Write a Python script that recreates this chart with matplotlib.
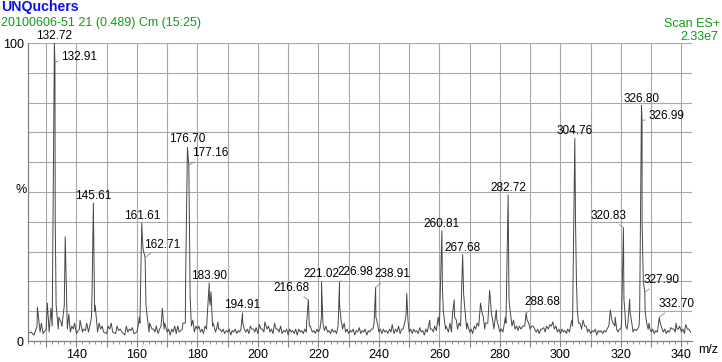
import matplotlib
matplotlib.use("Agg")
import matplotlib.pyplot as plt
from matplotlib.ticker import MultipleLocator, FuncFormatter
import numpy as np

plt.rcParams['font.family'] = ['Liberation Sans', 'DejaVu Sans']

# noise floor, one reading per m/z unit starting at 124 (% of base peak)
noise_start = 124
noise_pct = [
    2.5, 3, 2, 5, 3, 2.5, 4, 3, 5, 40, 4, 6, 12, 4, 3, 4, 2.5, 4, 3, 3.5,      # 124-143
    3, 8, 10, 3, 4, 3, 2.5, 4, 3, 2.5, 3.5, 3, 2, 3, 3.5, 2.5, 3, 6, 31, 12,   # 144-163
    3, 4, 3, 2.5, 5, 4, 3, 2, 3, 2.5, 3, 4, 6, 61, 5, 3, 4, 3, 2.5, 4,         # 164-183
    14, 5, 3, 4, 3, 2.5, 3, 2, 3, 2.5, 3, 6, 3, 2.5, 4, 3, 2.5, 4, 3, 4,       # 184-203
    3, 2.5, 4, 3, 2.5, 3, 2, 3, 2.5, 2, 3, 2.5, 3, 5, 3, 2.5, 3, 8, 3.5, 3,    # 204-223
    2.5, 3, 2.5, 12, 4, 3, 2.5, 3, 2, 3, 2.5, 3, 2, 3, 4, 8, 3, 2.5, 3, 2.5,   # 224-243
    3, 2.5, 3, 2.5, 4, 9, 3, 2.5, 3, 2.5, 3, 2, 3, 4, 3, 3.5, 5, 18, 4, 3,     # 244-263
    3, 8, 4, 5, 16, 4, 3, 2.5, 4, 5, 10, 4, 6, 12, 4, 7, 3, 3, 6, 14,          # 264-283
    5, 4, 3.5, 4, 5, 7, 4, 5, 3, 2.5, 4, 3, 4, 5, 4, 3, 2.5, 3, 2.5, 3,        # 284-303
    5, 40, 6, 4, 5, 3, 2.5, 3, 2, 3, 2.5, 3, 5, 7, 5, 3, 4, 14, 4, 10,         # 304-323
    3, 3.5, 5, 40, 10, 4, 3, 2.5, 3, 6, 3, 2.5, 3, 4, 3, 4, 3, 2.5, 4, 3,      # 324-343
]

# peaks and bumps
peak_mz = [
    127.1, 128.4, 130.4, 131.6, 132.72, 132.91, 133.3, 134.2, 135.2, 136.3, 137.5, 138.5, 139.4,
    141.2, 142.3, 143.4, 144.4, 145.2, 145.61, 146.2, 147.5, 148.5, 150.5, 151.5, 153.4, 154.5,
    156.5, 157.5, 158.5, 160.4, 160.8, 161.61, 162.71, 164.2, 165.5, 166.4, 167.5, 168.4, 169.2,
    170.5, 171.5, 172.5, 173.5, 175.2, 176.1, 176.70, 177.16, 177.6, 178.5, 179.5, 180.5, 181.5,
    182.5, 183.3, 183.90, 184.2, 184.5, 185.2, 186.3, 186.8, 187.5, 188.5, 189.5, 190.5, 191.5,
    192.5, 193.5, 194.4, 194.91, 195.5, 196.5, 197.5, 198.5, 199.4, 200.5, 201.5, 202.3, 203.5,
    204.5, 205.5, 206.5, 207.5, 208.5, 209.5, 210.5, 211.5, 212.5, 213.5, 214.5, 215.5, 216.1,
    216.68, 217.3, 218.5, 219.5, 220.5, 221.02, 221.5, 222.5, 223.5, 224.5, 225.5, 226.5, 226.98,
    227.5, 228.5, 229.5, 230.5, 231.5, 232.5, 233.5, 234.5, 235.4, 236.5, 237.5, 238.4, 238.91,
    239.5, 240.5, 241.5, 242.5, 243.5, 244.4, 245.5, 246.5, 247.5, 248.5, 249.2, 249.6, 250.5,
    251.5, 252.5, 253.5, 254.5, 255.5, 256.8, 257.5, 258.4, 259.6, 260.81, 261.3, 262.2, 263.5,
    264.3, 264.9, 265.6, 266.5, 267.68, 268.3, 269.2, 270.5, 271.5, 272.5, 273.6, 274.5, 275.2,
    276.6, 277.2, 277.6, 278.8, 279.5, 280.5, 281.8, 282.72, 283.4, 284.5, 285.5, 286.4, 287.5,
    288.2, 288.68, 289.5, 290.5, 291.5, 292.5, 293.5, 294.5, 295.4, 296.5, 297.5, 298.5, 299.5,
    300.5, 301.5, 302.4, 303.3, 303.8, 304.76, 305.3, 305.6, 306.5, 307.5, 308.5, 309.4, 310.5,
    311.5, 312.5, 313.5, 314.5, 315.4, 316.5, 317.4, 318.1, 318.6, 319.5, 320.2, 320.83, 321.3,
    321.6, 322.3, 322.9, 323.6, 324.5, 325.5, 326.2, 326.80, 326.99, 327.4, 327.90, 328.5, 329.3,
    329.6, 330.5, 331.5, 332.2, 332.70, 333.3, 334.5, 335.5, 336.5, 337.5, 338.2, 338.6, 339.4,
    340.5, 341.4, 342.5,
]
peak_pct = [
    11.4, 6, 12.7, 11, 100, 93.6, 12, 8, 5, 35, 9, 5, 6,
    7, 4, 6, 5, 18, 46.3, 12, 6, 5, 5, 6, 5, 4,
    5, 4, 4.5, 5, 8, 39.6, 28, 6, 4, 5, 4, 11, 6,
    4, 4, 5, 5, 6, 20, 65, 59, 15, 7, 5, 5, 4,
    5, 9, 19.5, 12, 16.5, 6, 4, 6.4, 4, 4, 3.5, 4, 3.5,
    4, 3.5, 4, 9.4, 4, 4, 5, 4, 4.5, 5.5, 4, 6.4, 5,
    4, 6, 4, 5, 3.5, 4, 4, 3.5, 4, 4, 3.5, 4, 6,
    13.8, 5, 3.5, 4, 4, 19.8, 6, 5, 3.5, 4, 3.5, 5, 19.8,
    7, 6, 4, 3.5, 4, 3.5, 4.5, 3.5, 4, 3.5, 4, 6, 18,
    6, 4, 4, 3.5, 4, 5.5, 4, 5, 4, 6, 16, 7, 4,
    4, 3.5, 4.5, 3.5, 4, 7, 4, 5, 8, 37, 10, 5, 6,
    9, 13.8, 7, 6, 29, 12, 6, 4, 5, 6, 12.7, 8, 6,
    17, 9, 7, 10.4, 5, 4, 8, 49, 10, 7, 5, 5, 5,
    5, 9.4, 6, 5, 4, 4, 4, 4.5, 5, 5.5, 6.4, 5, 4,
    4, 3.5, 4, 5, 7, 68, 20, 10, 6, 7, 5, 4, 3.5,
    4, 3.5, 3.5, 3.5, 4, 10.4, 6, 8, 4, 4, 6, 38, 10,
    5, 6, 14, 6, 4, 4, 10, 79, 74, 20, 16.4, 6, 6,
    4, 4, 3.5, 4, 8, 5, 4, 3.5, 4.5, 4, 6, 4, 5,
    4, 5.5, 4,
]

# labelled peaks
label_mz = [132.72, 132.91, 145.61, 161.61, 162.71, 176.70, 177.16, 183.90, 194.91,
            216.68, 221.02, 226.98, 238.91, 260.81, 267.68, 282.72, 288.68, 304.76,
            320.83, 326.80, 326.99, 327.90, 332.70]
# label offset from the apex in pixels (dx, dy) and whether a leader is drawn
label_layout = [(0, 7, False), (24, 5, True), (0, 7, False), (0, 7, False), (17, 13, True),
                (0, 8, False), (21, 12, True), (0, 7, False), (0, 8, False),
                (-17, 12, True), (0, 8, False), (16, 10, True), (17, 13, True),
                (0, 7, False), (0, 7, False), (0, 7, False), (16, 11, True), (0, 7, False),
                (-15, 12, True), (0, 7, False), (24, 4, True), (17, 12, True), (17, 13, True)]

noise_mz = noise_start + np.arange(len(noise_pct))
mz = np.concatenate([noise_mz, peak_mz])
pct = np.concatenate([noise_pct, peak_pct])
order = np.argsort(mz, kind='stable')
mz, pct = mz[order], pct[order]

fig = plt.figure(figsize=(7.22, 3.62), dpi=100)
ax = fig.add_axes([28 / 722, 21 / 362, 664 / 722, 298 / 362])

ax.plot(mz, pct, color='#474747', lw=0.7)

ax.set_xlim(124.0, 343.5)
ax.set_ylim(0, 100)

ax.xaxis.set_major_locator(MultipleLocator(10))
ax.xaxis.set_minor_locator(MultipleLocator(2))
ax.xaxis.set_major_formatter(FuncFormatter(lambda v, p: '%d' % v if int(round(v)) % 20 == 0 else ''))
ax.yaxis.set_major_locator(MultipleLocator(10))
ax.yaxis.set_major_formatter(FuncFormatter(lambda v, p: '%d' % v if v in (0, 100) else ''))
ax.tick_params(axis='x', which='major', length=4, width=0.8, color='#808080', labelsize=9, pad=1.5)
ax.tick_params(axis='x', which='minor', length=2.5, width=0.6, color='#808080')
ax.tick_params(axis='y', length=0, labelsize=9, pad=3)
ax.grid(True, which='major', color='#a8a8a8', lw=0.8)
ax.set_axisbelow(True)
for s in ['top', 'right']:
    ax.spines[s].set_visible(False)
for s in ['left', 'bottom']:
    ax.spines[s].set_color('#808080')
    ax.spines[s].set_linewidth(0.9)

lookup = dict(zip(peak_mz, peak_pct))
for m, (dx, dy, leader) in zip(label_mz, label_layout):
    props = dict(arrowstyle='-', color='#8c8c8c', lw=0.6, shrinkA=0, shrinkB=0) if leader else None
    ax.annotate('%.2f' % m, xy=(m, lookup[m]), xytext=(dx, dy), textcoords='offset pixels',
                ha='center', va='center', fontsize=8.5, arrowprops=props, annotation_clip=False)

green = '#139a13'
fig.text(1 / 722, 1 - 7.5 / 362, 'UNQuchers', color='#1010f0', fontsize=10.2, fontweight='bold',
         ha='left', va='center')
fig.text(1 / 722, 1 - 23 / 362, '20100606-51 21 (0.489) Cm (15:25)', color=green, fontsize=9,
         ha='left', va='center')
fig.text(720 / 722, 1 - 24 / 362, 'Scan ES+', color=green, fontsize=9, ha='right', va='center')
fig.text(718 / 722, 1 - 37 / 362, '2.33e7', color=green, fontsize=9, ha='right', va='center')
fig.text(21 / 722, 1 - 190 / 362, '%', fontsize=9, ha='center', va='center')
fig.text(708 / 722, 1 - 350 / 362, 'm/z', fontsize=9, ha='center', va='center')

fig.savefig('out.png', dpi=100)
